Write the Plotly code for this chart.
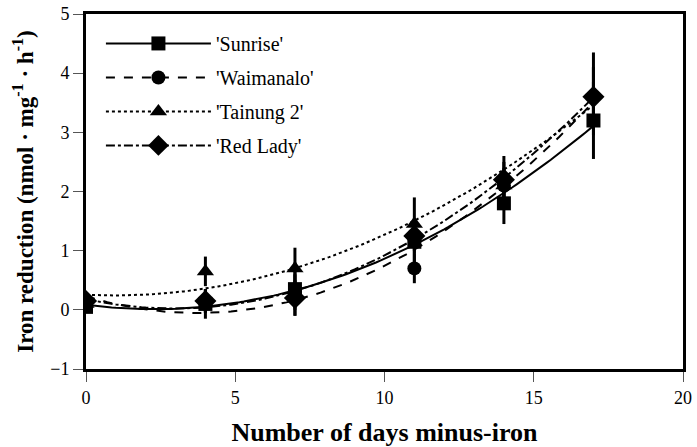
import numpy as np
import plotly.graph_objects as go

days = [0, 4, 7, 11, 14, 17]
names = ["'Sunrise'", "'Waimanalo'", "'Tainung 2'", "'Red Lady'"]
sunrise = [0.05, 0.10, 0.35, 1.15, 1.80, 3.20]
waimanalo = [0.10, 0.15, 0.30, 0.70, 2.10, 3.60]
tainung = [0.10, 0.65, 0.70, 1.45, 2.10, 3.65]
redlady = [0.15, 0.15, 0.20, 1.25, 2.20, 3.60]
sunrise_err = [0.10, 0.25, 0.45, 0.35, 0.35, 0.65]
waimanalo_err = [0.10, 0.20, 0.30, 0.25, 0.30, 0.50]
tainung_err = [0.10, 0.25, 0.35, 0.45, 0.40, 0.70]
redlady_err = [0.10, 0.20, 0.30, 0.30, 0.40, 0.50]

series = [sunrise, waimanalo, tainung, redlady]
errors = [sunrise_err, waimanalo_err, tainung_err, redlady_err]
symbols = ["square", "circle", "triangle-up", "diamond"]
msizes = [14, 14, 15, 17]
dashes = ["solid", "dash", "dot", "dashdot"]

fig = go.Figure()
xfit = np.linspace(0, 17, 120)
for i in range(4):
    coef = np.polyfit(days, series[i], 2)
    fig.add_trace(go.Scatter(x=xfit, y=np.polyval(coef, xfit), mode="lines",
                             line=dict(color="black", width=2, dash=dashes[i]),
                             showlegend=False, hoverinfo="skip"))
for i in range(4):
    fig.add_trace(go.Scatter(x=days, y=series[i], mode="markers",
                             marker=dict(symbol=symbols[i], size=msizes[i], color="black"),
                             error_y=dict(type="data", array=errors[i], color="black",
                                          thickness=3, width=0),
                             showlegend=False))
for i in range(4):
    fig.add_trace(go.Scatter(x=[None], y=[None], mode="lines+markers", name=names[i],
                             legendgroup=str(i),
                             line=dict(color="black", width=2, dash=dashes[i]),
                             marker=dict(symbol=symbols[i], size=msizes[i], color="black")))

font = "Liberation Serif"
fig.update_layout(
    width=697, height=447,
    margin=dict(l=86, r=14, t=14, b=78, autoexpand=False),
    paper_bgcolor="white", plot_bgcolor="white",
    font=dict(family=font, color="black", size=18),
    legend=dict(x=0.025, y=0.972, xanchor="left", yanchor="top",
                font=dict(family=font, size=20), itemwidth=105,
                tracegroupgap=5, bgcolor="rgba(0,0,0,0)"),
    xaxis=dict(range=[0, 20], tickvals=[0, 5, 10, 15, 20], ticks="outside", ticklen=10,
               tickcolor="#555", tickwidth=1, showline=True, linecolor="black",
               linewidth=3, mirror=True, showgrid=False, zeroline=False,
               tickfont=dict(family=font, size=18), automargin=False,
               title=dict(text="<b>Number of days minus-iron</b>",
                          font=dict(family=font, size=26), standoff=18)),
    yaxis=dict(range=[-1, 5], tickvals=[-1, 0, 1, 2, 3, 4, 5], ticks="outside", ticklen=10,
               tickcolor="#555", tickwidth=1, showline=True, linecolor="black",
               linewidth=3, mirror=True, showgrid=False, zeroline=False,
               tickfont=dict(family=font, size=18), automargin=False,
               title=dict(text="<b>Iron reduction (nmol · mg<sup>-1</sup> · h<sup>-1</sup>)</b>",
                          font=dict(family=font, size=23), standoff=11)),
)
fig.write_html("out.html", config={"displayModeBar": False},
               post_script="document.body.style.margin='0';")
